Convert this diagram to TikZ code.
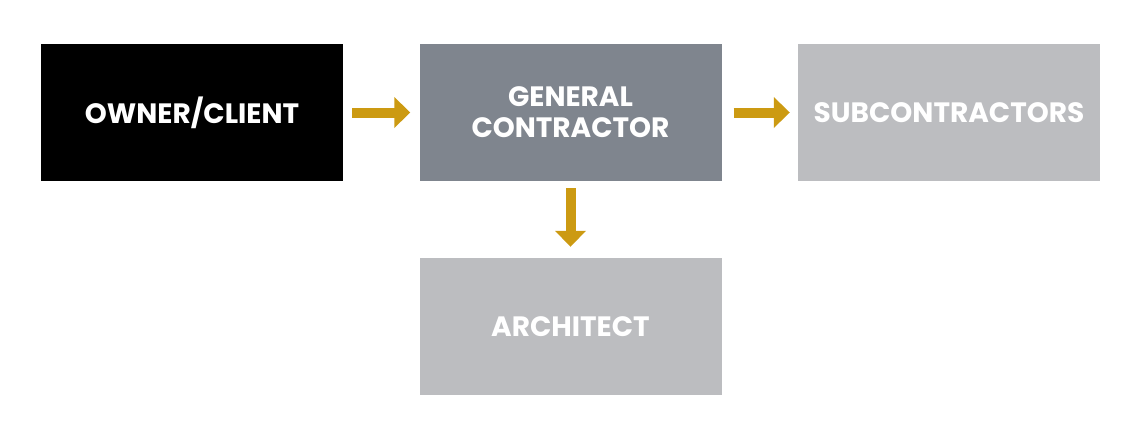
\documentclass[tikz,border=0pt]{standalone}
\usepackage{fontspec}
\setmainfont{Poppins}
\usetikzlibrary{arrows.meta}
\definecolor{gold}{HTML}{CC9A12}
\definecolor{gcg}{HTML}{7F858E}
\definecolor{lg}{HTML}{BCBDC0}
\begin{document}
\begin{tikzpicture}[x=1pt,y=-1pt,
 box/.style={minimum width=302pt,minimum height=137pt,inner sep=0pt,text=white,font=\fontsize{28}{31}\selectfont\bfseries,align=center},
 arr/.style={draw=gold,line width=10pt,-{Triangle[length=16pt,width=30pt]}}]
\useasboundingbox (0,0) rectangle (1142,426);
\node[box,fill=black] (o) at (192,112.5) {OWNER/CLIENT};
\node[box,fill=gcg] (g) at (570.5,112.5) {GENERAL\\CONTRACTOR};
\node[box,fill=lg] (s) at (949,112.5) {SUBCONTRACTORS};
\node[box,fill=lg] (a) at (570.5,326.5) {ARCHITECT};
\draw[arr] ([xshift=9pt]o.east) -- ([xshift=-9pt]g.west);
\draw[arr] ([xshift=12pt]g.east) -- ([xshift=-8pt]s.west);
\draw[arr] ([yshift=-7pt]g.south) -- ([yshift=11pt]a.north);
\end{tikzpicture}
\end{document}
